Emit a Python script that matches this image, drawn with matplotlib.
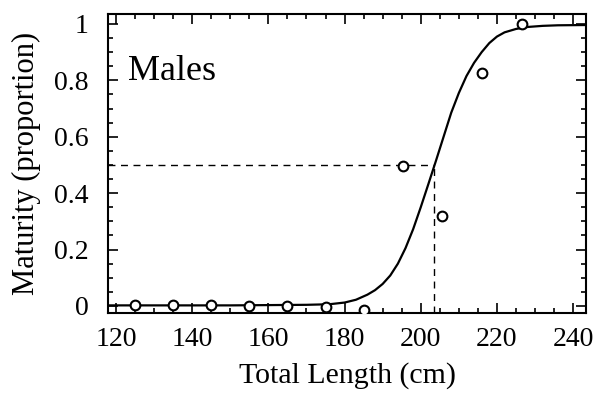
import matplotlib
matplotlib.use("Agg")
import matplotlib.pyplot as plt
from matplotlib.ticker import MultipleLocator

# Observed proportions mature by length class
length_obs = [125, 135, 145, 155, 165, 175, 185, 195.4, 205.5, 216, 226.5]
mature_obs = [0.004, 0.003, 0.003, 0.001, 0.0, -0.002, -0.015, 0.495, 0.32, 0.825, 1.0]

# Fitted maturity curve
curve_len = [118, 130, 140, 150, 160, 170, 176, 180, 183, 186, 188, 190, 192, 194,
             196, 198, 200, 202, 204, 206, 208, 210, 212, 214, 216, 218, 220,
             222, 225, 228, 232, 236, 243.8]
curve_mat = [0.002, 0.002, 0.002, 0.002, 0.003, 0.004, 0.006, 0.012, 0.022, 0.040,
             0.056, 0.078, 0.108, 0.150, 0.205, 0.272, 0.350, 0.432, 0.515, 0.600,
             0.685, 0.755, 0.815, 0.862, 0.900, 0.932, 0.955, 0.970, 0.982, 0.989,
             0.993, 0.995, 0.996]

L50 = 203.5
half = 0.5

xticks = [120, 140, 160, 180, 200, 220, 240]
yticks = [0, 0.2, 0.4, 0.6, 0.8, 1]
ytick_labels = ["0", "0.2", "0.4", "0.6", "0.8", "1"]

plt.rcParams['font.family'] = ['Liberation Serif', 'DejaVu Serif']

fig = plt.figure(figsize=(5.95, 3.97), dpi=100)
ax = fig.add_axes([0.1815, 0.2116, 0.8035, 0.7531])

xmin, xmax = 117.9, 243.4
ymin, ymax = -0.025, 1.035

ax.plot(curve_len, curve_mat, color='black', lw=1.6, zorder=3)
ax.plot(length_obs, mature_obs, linestyle='none', marker='o', ms=7,
        mfc='white', mec='black', mew=1.5, zorder=4)

ax.plot([xmin, L50], [half, half], color='black', lw=1.0, ls=(0, (5, 4)), zorder=2)
ax.plot([L50, L50], [ymin, half], color='black', lw=1.0, ls=(0, (5, 4)), zorder=2)

ax.text(123.1, 0.83, "Males", fontsize=26, va='center', ha='left')

ax.set_xlim(xmin, xmax)
ax.set_ylim(ymin, ymax)
ax.set_xticks(xticks)
ax.set_yticks(yticks)
ax.set_yticklabels(ytick_labels)
ax.xaxis.set_minor_locator(MultipleLocator(5))
ax.yaxis.set_minor_locator(MultipleLocator(0.05))
ax.tick_params(which='both', direction='in', top=True, right=True, width=1.2)
ax.tick_params(which='major', length=7, labelsize=20)
ax.tick_params(axis='x', which='major', pad=10)
ax.tick_params(axis='y', which='major', pad=14)
ax.tick_params(which='minor', length=3.5)
for s in ax.spines.values():
    s.set_linewidth(1.5)

ax.set_xlabel("Total Length (cm)", fontsize=21.5, labelpad=7)
ax.set_ylabel("Maturity (proportion)", fontsize=22, labelpad=9)

fig.savefig("out.png", dpi=100)
